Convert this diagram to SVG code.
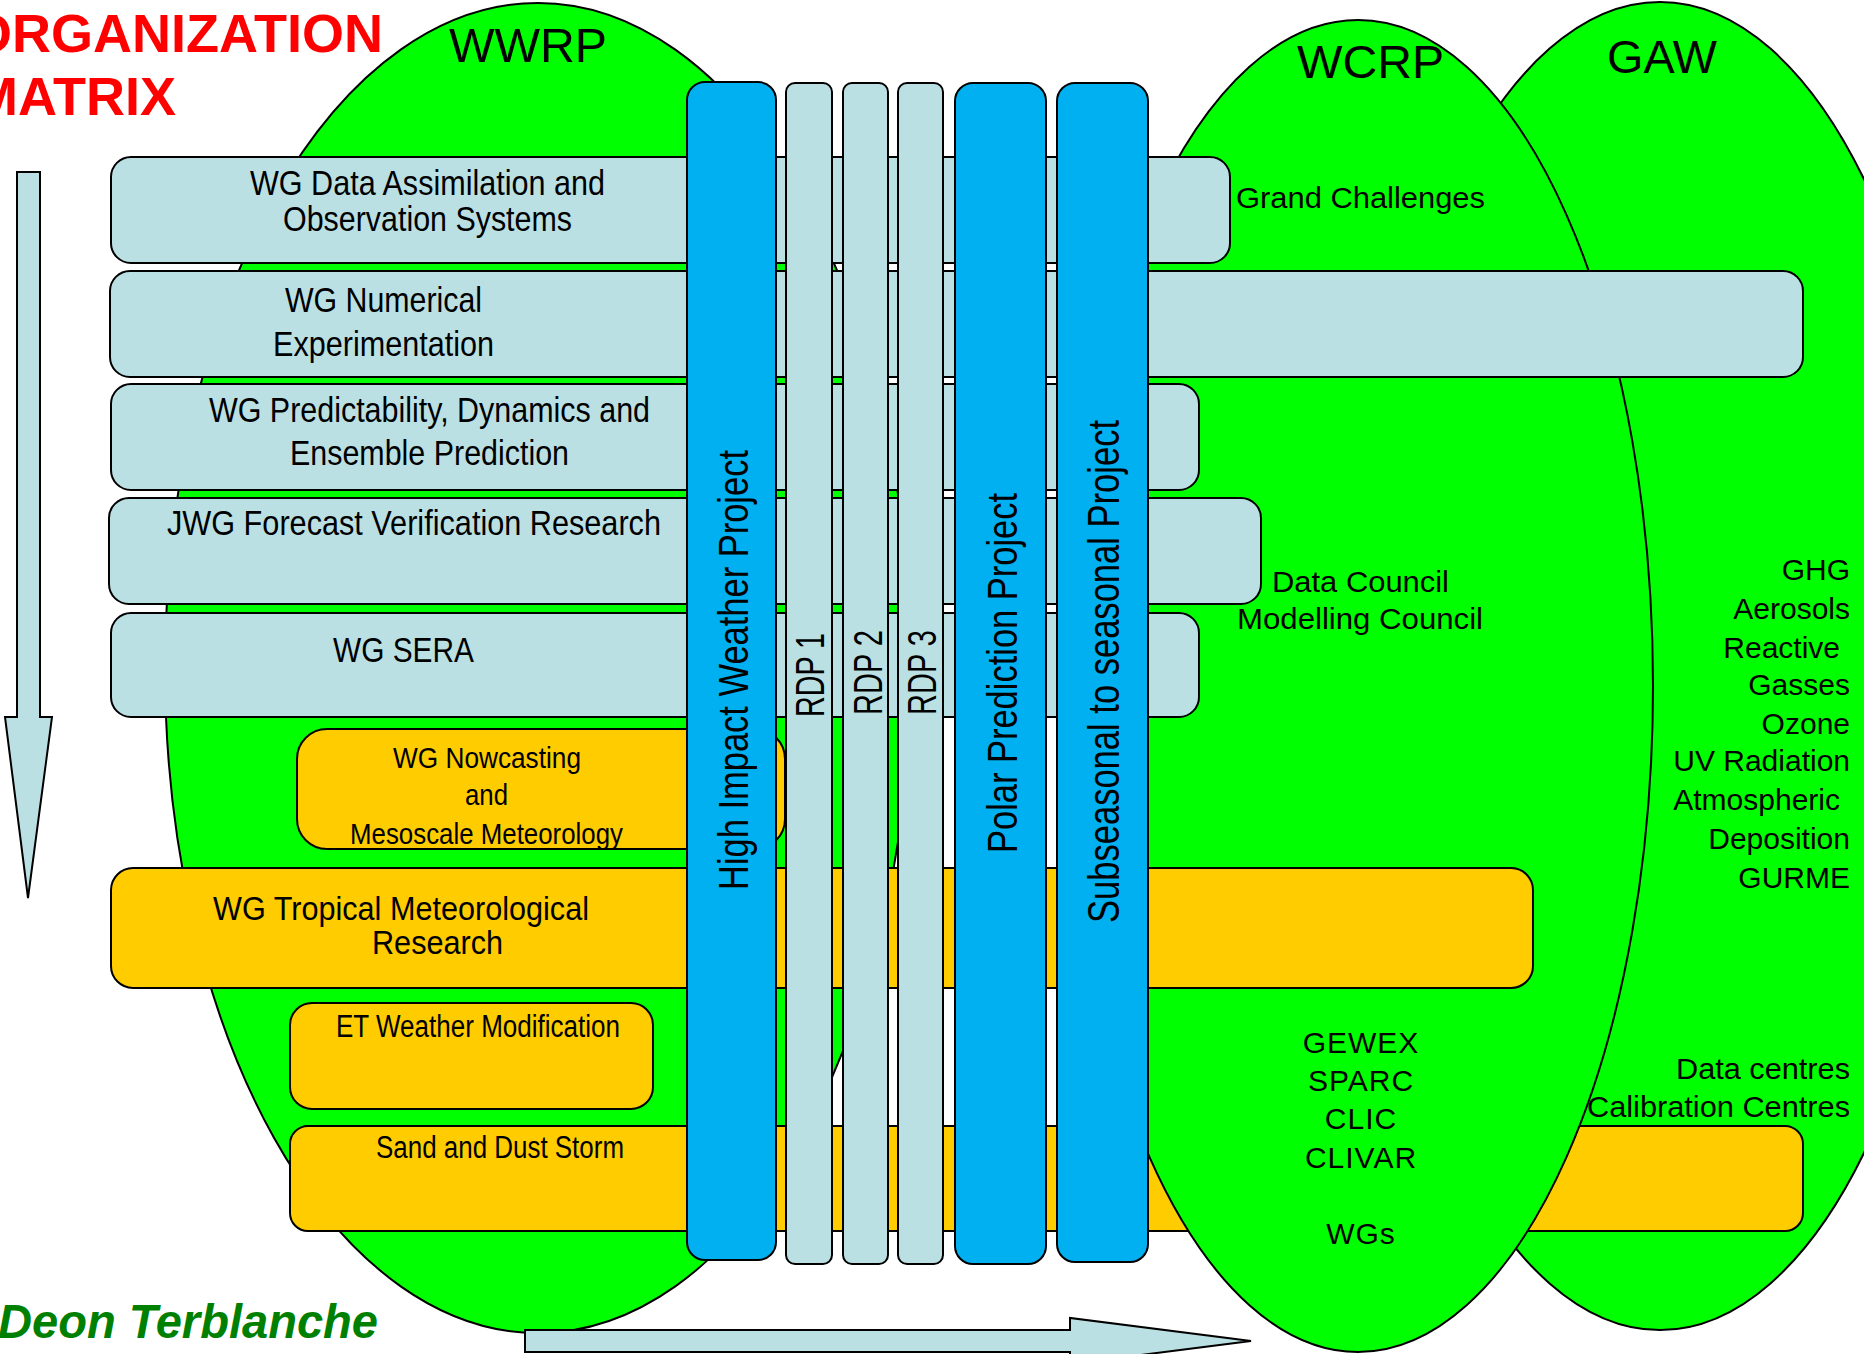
<svg xmlns="http://www.w3.org/2000/svg" width="1864" height="1354" viewBox="0 0 1864 1354">
<defs>
<style>
.ell{fill:#00FF00;stroke:#000;stroke-width:2}
.lb{fill:#BBE0E3;stroke:#000;stroke-width:2}
.or{fill:#FFCC00;stroke:#000;stroke-width:2}
.bl{fill:#00B0F0;stroke:#000;stroke-width:2}
.nt{font-family:"Liberation Sans Narrow","Liberation Sans",Arial,sans-serif;fill:#000}
.rt{font-family:"Liberation Sans",Arial,sans-serif;fill:#000}
</style>
</defs>
<rect width="1864" height="1354" fill="#fff"/>

<g id="wwrp">
<ellipse class="ell" cx="538" cy="668" rx="373" ry="665"/>
<text class="rt" x="449" y="62" font-size="48" textLength="158" lengthAdjust="spacingAndGlyphs">WWRP</text>
</g>

<g id="gaw">
<ellipse class="ell" cx="1660" cy="666" rx="300" ry="664"/>
<text class="rt" x="1607" y="73" font-size="47" textLength="110" lengthAdjust="spacingAndGlyphs">GAW</text>
<g class="rt" font-size="30" text-anchor="end">
<text x="1850" y="580">GHG</text>
<text x="1850" y="619">Aerosols</text>
<text x="1840" y="658">Reactive</text>
<text x="1850" y="695">Gasses</text>
<text x="1850" y="734">Ozone</text>
<text x="1850" y="771">UV Radiation</text>
<text x="1840" y="810">Atmospheric</text>
<text x="1850" y="849">Deposition</text>
<text x="1850" y="888">GURME</text>
</g>
<text class="rt" x="1676" y="1079" font-size="29" textLength="174" lengthAdjust="spacingAndGlyphs">Data centres</text>
<text class="rt" x="1587" y="1117" font-size="29" textLength="263" lengthAdjust="spacingAndGlyphs">Calibration  Centres</text>
</g>

<g id="sand-dust">
<rect class="or" x="290" y="1126" width="1513" height="105" rx="18"/>
<text class="nt" x="376" y="1158" font-size="31" textLength="248" lengthAdjust="spacingAndGlyphs">Sand and Dust Storm</text>
</g>

<g id="wcrp">
<ellipse class="ell" cx="1358" cy="686" rx="295" ry="666"/>
<text class="rt" x="1297" y="78" font-size="47" textLength="147" lengthAdjust="spacingAndGlyphs">WCRP</text>
<text class="rt" x="1236" y="208" font-size="30" textLength="249" lengthAdjust="spacingAndGlyphs">Grand Challenges</text>
<text class="rt" x="1272" y="592" font-size="30" textLength="177" lengthAdjust="spacingAndGlyphs">Data Council</text>
<text class="rt" x="1237" y="629" font-size="30" textLength="246" lengthAdjust="spacingAndGlyphs">Modelling Council</text>
<g class="rt" font-size="30" text-anchor="middle" letter-spacing="1">
<text x="1361" y="1053">GEWEX</text>
<text x="1361" y="1091">SPARC</text>
<text x="1361" y="1129">CLIC</text>
<text x="1361" y="1168">CLIVAR</text>
<text x="1361" y="1244">WGs</text>
</g>
</g>

<g id="wg-daos">
<rect class="lb" x="111" y="157" width="1119" height="106" rx="20"/>
<text class="nt" x="250" y="195" font-size="35" textLength="355" lengthAdjust="spacingAndGlyphs">WG Data Assimilation and</text>
<text class="nt" x="283" y="231" font-size="35" textLength="289" lengthAdjust="spacingAndGlyphs">Observation Systems</text>
</g>
<g id="wg-ne">
<rect class="lb" x="110" y="271" width="1693" height="106" rx="20"/>
<text class="nt" x="285" y="312" font-size="35" textLength="197" lengthAdjust="spacingAndGlyphs">WG Numerical</text>
<text class="nt" x="273" y="356" font-size="35" textLength="221" lengthAdjust="spacingAndGlyphs">Experimentation</text>
</g>
<g id="wg-pdep">
<rect class="lb" x="111" y="384" width="1088" height="106" rx="20"/>
<text class="nt" x="209" y="422" font-size="35" textLength="441" lengthAdjust="spacingAndGlyphs">WG Predictability, Dynamics and</text>
<text class="nt" x="290" y="465" font-size="35" textLength="279" lengthAdjust="spacingAndGlyphs">Ensemble Prediction</text>
</g>
<g id="jwg-fvr">
<rect class="lb" x="109" y="498" width="1152" height="106" rx="20"/>
<text class="nt" x="167" y="535" font-size="35" textLength="494" lengthAdjust="spacingAndGlyphs">JWG Forecast Verification Research</text>
</g>
<g id="wg-sera">
<rect class="lb" x="111" y="613" width="1088" height="104" rx="20"/>
<text class="nt" x="333" y="662" font-size="35" textLength="141" lengthAdjust="spacingAndGlyphs">WG SERA</text>
</g>
<g id="wg-nowcasting">
<rect class="or" x="297" y="729" width="488" height="120" rx="30"/>
<text class="nt" x="393" y="768" font-size="30" textLength="188" lengthAdjust="spacingAndGlyphs">WG Nowcasting</text>
<text class="nt" x="465" y="805" font-size="30" textLength="43" lengthAdjust="spacingAndGlyphs">and</text>
<text class="nt" x="350" y="844" font-size="30" textLength="273" lengthAdjust="spacingAndGlyphs">Mesoscale Meteorology</text>
</g>
<g id="wg-tmr">
<rect class="or" x="111" y="868" width="1422" height="120" rx="22"/>
<text class="nt" x="213" y="920" font-size="34" textLength="376" lengthAdjust="spacingAndGlyphs">WG Tropical Meteorological</text>
<text class="nt" x="372" y="954" font-size="34" textLength="131" lengthAdjust="spacingAndGlyphs">Research</text>
</g>
<g id="et-wm">
<rect class="or" x="290" y="1003" width="363" height="106" rx="22"/>
<text class="nt" x="336" y="1037" font-size="31" textLength="284" lengthAdjust="spacingAndGlyphs">ET Weather Modification</text>
</g>

<g id="hiwp">
<rect class="bl" x="687" y="82" width="89" height="1178" rx="18"/>
<text class="nt" transform="translate(748,890) rotate(-90)" font-size="43" textLength="440" lengthAdjust="spacingAndGlyphs">High Impact Weather Project</text>
</g>
<g id="rdp1">
<rect class="lb" x="786" y="83" width="46" height="1181" rx="9"/>
<text class="nt" transform="translate(824,717) rotate(-90)" font-size="40" textLength="84" lengthAdjust="spacingAndGlyphs">RDP 1</text>
</g>
<g id="rdp2">
<rect class="lb" x="843" y="83" width="45" height="1181" rx="9"/>
<text class="nt" transform="translate(882,715) rotate(-90)" font-size="40" textLength="85" lengthAdjust="spacingAndGlyphs">RDP 2</text>
</g>
<g id="rdp3">
<rect class="lb" x="898" y="83" width="45" height="1181" rx="9"/>
<text class="nt" transform="translate(936,715) rotate(-90)" font-size="40" textLength="85" lengthAdjust="spacingAndGlyphs">RDP 3</text>
</g>
<g id="ppp">
<rect class="bl" x="955" y="83" width="91" height="1181" rx="18"/>
<text class="nt" transform="translate(1017,853) rotate(-90)" font-size="43" textLength="360" lengthAdjust="spacingAndGlyphs">Polar Prediction Project</text>
</g>
<g id="s2s">
<rect class="bl" x="1057" y="83" width="91" height="1179" rx="18"/>
<text class="nt" transform="translate(1119,923) rotate(-90)" font-size="44" textLength="503" lengthAdjust="spacingAndGlyphs">Subseasonal to seasonal Project</text>
</g>

<g id="title">
<text x="383" y="52" font-family="Liberation Sans,Arial,sans-serif" font-weight="bold" font-size="54" fill="#FF0000" text-anchor="end">ORGANIZATION</text>
<text x="176" y="115" font-family="Liberation Sans,Arial,sans-serif" font-weight="bold" font-size="54" fill="#FF0000" text-anchor="end">MATRIX</text>
</g>
<g id="author">
<text x="-2" y="1338" font-family="Liberation Sans,Arial,sans-serif" font-weight="bold" font-style="italic" font-size="48" fill="#008000" textLength="380" lengthAdjust="spacingAndGlyphs">Deon Terblanche</text>
</g>

<g id="connectors">
<polygon class="lb" stroke-width="1.5" points="17,172 40,172 40,717 52,717 28,898 5,717 17,717"/>
<polygon class="lb" stroke-width="1.5" points="525,1330 1070,1330 1070,1318 1251,1341 1070,1364 1070,1352 525,1352"/>
</g>
</svg>
